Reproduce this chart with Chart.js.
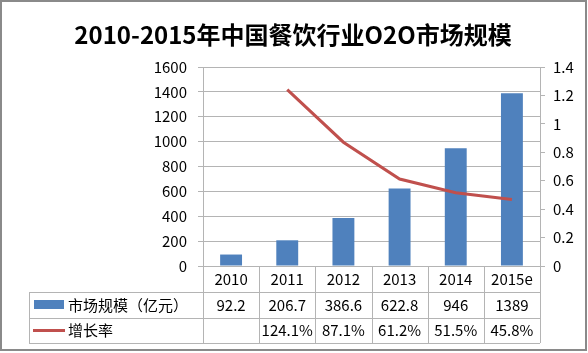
<!DOCTYPE html>
<html>
<head>
<meta charset="utf-8">
<script src="https://cdn.jsdelivr.net/npm/chart.js@4.4.0/dist/chart.umd.min.js"></script>
<style>
  html, body { margin: 0; padding: 0; background: #fff; }
  #wrap { width: 588px; height: 353px; }
</style>
</head>
<body>
<div id="wrap"><canvas id="chart" width="588" height="353"></canvas></div>
<script>
// data
const years = ['2010', '2011', '2012', '2013', '2014', '2015e'];
const marketSize = [92.2, 206.7, 386.6, 622.8, 946, 1389];
const growthRate = [null, 1.241, 0.871, 0.612, 0.515, 0.468];
const sizeLabels = ['92.2', '206.7', '386.6', '622.8', '946', '1389'];
const growthLabels = ['', '124.1%', '87.1%', '61.2%', '51.5%', '45.8%'];
const seriesNames = ['市场规模（亿元）', '增长率'];
const titleText = '2010-2015年中国餐饮行业O2O市场规模';

const FONT = "'Noto Sans CJK SC', 'Liberation Sans', sans-serif";
const GRID = '#b4b4b4';
const BLUE = '#4f81bd';
const RED = '#c0504d';

// draws title, data table under the plot and the outer frame
const tablePlugin = {
  id: 'tablePlugin',
  afterDraw(chart) {
    const ctx = chart.ctx;
    const area = chart.chartArea;
    const x = chart.scales.x;
    const colW = (area.right - area.left) / years.length;
    const rowTop = area.bottom;
    const rows = [rowTop, rowTop + 26, rowTop + 52, rowTop + 77];
    const legendLeft = 29;

    ctx.save();
    // title
    ctx.fillStyle = '#000';
    ctx.font = 'bold 24px ' + FONT;
    ctx.textAlign = 'center';
    ctx.textBaseline = 'middle';
    ctx.fillText(titleText, 293, 35);

    // table grid
    ctx.strokeStyle = GRID;
    ctx.lineWidth = 1;
    ctx.beginPath();
    for (let r = 1; r < rows.length; r++) {
      ctx.moveTo(legendLeft, Math.round(rows[r]) + 0.5);
      ctx.lineTo(area.right, Math.round(rows[r]) + 0.5);
    }
    for (let k = 0; k <= years.length; k++) {
      const vx = Math.round(area.left + k * colW) + 0.5;
      ctx.moveTo(vx, rows[0]);
      ctx.lineTo(vx, rows[3]);
    }
    ctx.moveTo(legendLeft + 0.5, rows[1]);
    ctx.lineTo(legendLeft + 0.5, rows[3]);
    ctx.stroke();

    // cell text
    ctx.font = '15px ' + FONT;
    ctx.fillStyle = '#000';
    years.forEach((y, i) => {
      const cx = x.getPixelForValue(i);
      ctx.fillText(y, cx, (rows[0] + rows[1]) / 2);
      ctx.fillText(sizeLabels[i], cx, (rows[1] + rows[2]) / 2);
      ctx.fillText(growthLabels[i], cx, (rows[2] + rows[3]) / 2);
    });

    // legend keys
    ctx.fillStyle = BLUE;
    ctx.fillRect(34, rows[1] + 8, 30, 9);
    ctx.strokeStyle = RED;
    ctx.lineWidth = 3;
    ctx.beginPath();
    ctx.moveTo(33, (rows[2] + rows[3]) / 2);
    ctx.lineTo(65, (rows[2] + rows[3]) / 2);
    ctx.stroke();
    ctx.fillStyle = '#000';
    ctx.textAlign = 'left';
    ctx.fillText(seriesNames[0], 68, (rows[1] + rows[2]) / 2);
    ctx.fillText(seriesNames[1], 68, (rows[2] + rows[3]) / 2);

    // outer frame
    ctx.strokeStyle = '#8a8a8a';
    ctx.lineWidth = 2;
    ctx.strokeRect(1, 1, 585, 349);
    ctx.restore();
  }
};

new Chart(document.getElementById('chart'), {
  type: 'bar',
  data: {
    labels: years,
    datasets: [
      {
        type: 'line',
        label: seriesNames[1],
        data: growthRate,
        yAxisID: 'y1',
        borderColor: RED,
        backgroundColor: RED,
        borderWidth: 3,
        pointRadius: 0,
        tension: 0,
        order: 0
      },
      {
        type: 'bar',
        label: seriesNames[0],
        data: marketSize,
        yAxisID: 'y',
        backgroundColor: BLUE,
        categoryPercentage: 1,
        barPercentage: 0.39,
        order: 1
      }
    ]
  },
  options: {
    responsive: false,
    animation: false,
    layout: { padding: { top: 67, left: 0, right: 0, bottom: 0 } },
    plugins: {
      legend: { display: false },
      title: { display: false },
      tooltip: { enabled: false }
    },
    scales: {
      x: {
        grid: { display: false },
        border: { display: false },
        ticks: { display: false },
        afterFit(scale) { scale.height = 87; }
      },
      y: {
        position: 'left',
        min: 0,
        max: 1600,
        ticks: {
          stepSize: 200, padding: 11, color: '#000', font: { family: FONT, size: 15 },
          callback: (v) => String(v)
        },
        grid: { color: GRID, tickLength: 5 },
        border: { color: GRID },
        afterFit(scale) { scale.width = 203; }
      },
      y1: {
        position: 'right',
        min: 0,
        max: 1.4,
        ticks: {
          stepSize: 0.2, padding: 8, color: '#000', font: { family: FONT, size: 15 },
          callback: (v) => String(Number(v.toFixed(1)))
        },
        grid: { drawOnChartArea: false, color: GRID, tickLength: 5 },
        border: { color: GRID },
        afterFit(scale) { scale.width = 48; }
      }
    }
  },
  plugins: [tablePlugin]
});
</script>
</body>
</html>
